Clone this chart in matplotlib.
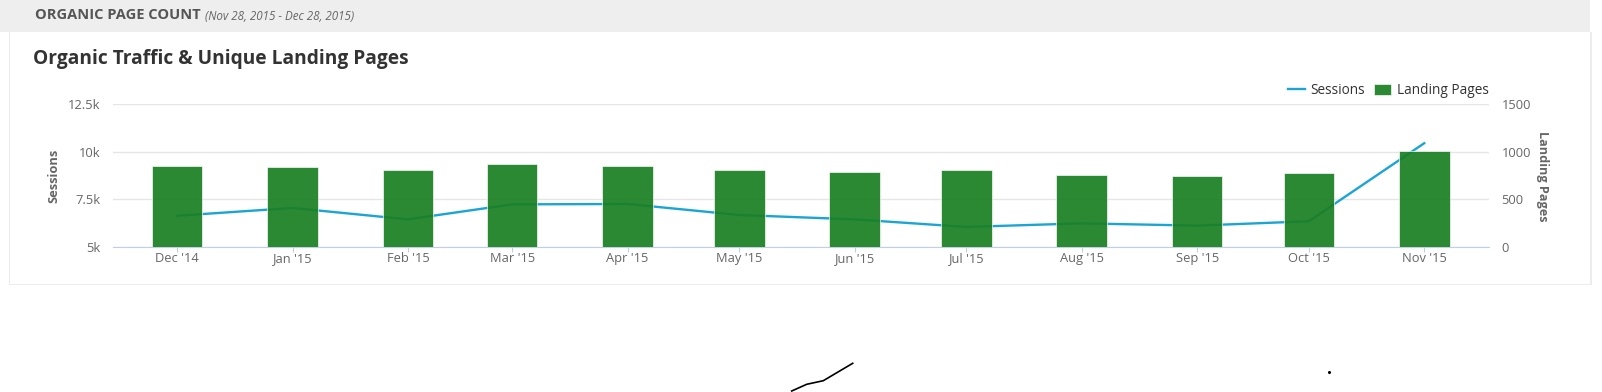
import matplotlib
matplotlib.use('Agg')
import matplotlib.pyplot as plt
import matplotlib.dates as mdates
from matplotlib.patches import Rectangle
from matplotlib.lines import Line2D
import pandas as pd

# data
months = pd.date_range('2014-12-01', '2015-11-01', freq='MS')
month_labels = ["Dec '14", "Jan '15", "Feb '15", "Mar '15", "Apr '15", "May '15",
                "Jun '15", "Jul '15", "Aug '15", "Sep '15", "Oct '15", "Nov '15"]
sessions = [6630, 7040, 6440, 7230, 7250, 6670, 6440, 6040, 6230, 6110, 6340, 10450]
landing_pages = [848, 838, 803, 873, 848, 813, 789, 803, 757, 743, 779, 1010]
session_ticks = [5000, 7500, 10000, 12500]
session_tick_labels = ['5k', '7.5k', '10k', '12.5k']
page_ticks = [0, 500, 1000, 1500]

W, H = 1602, 392

def fx(x):
    return x / W

def fy(y):
    return 1 - y / H

plt.rcParams['font.family'] = ['Open Sans', 'DejaVu Sans']

fig = plt.figure(figsize=(W / 100, H / 100), dpi=100)
fig.patch.set_facecolor('white')

# header band and card (behind the axes)
fig.patches.append(Rectangle((0, fy(32)), fx(1590), 32 / H, transform=fig.transFigure,
                             facecolor='#eeeeee', edgecolor='none', zorder=-2))
fig.patches.append(Rectangle((fx(8.5), fy(285)), fx(1591.5) - fx(8.5), (285 - 32) / H,
                             transform=fig.transFigure, facecolor='#ececec',
                             edgecolor='none', zorder=-2))
fig.patches.append(Rectangle((fx(10), fy(283.5)), fx(1590) - fx(10), (283.5 - 32) / H,
                             transform=fig.transFigure, facecolor='white',
                             edgecolor='none', zorder=-1))

fig.text(fx(35), fy(15), 'ORGANIC PAGE COUNT', fontsize=10.5, fontweight='bold',
         color='#555555', va='center')
fig.text(fx(205), fy(16), '(Nov 28, 2015 - Dec 28, 2015)', fontsize=8.4, style='italic',
         color='#666666', va='center')
fig.text(fx(33), fy(59), 'Organic Traffic & Unique Landing Pages', fontsize=13.75,
         fontweight='bold', color='#333333', va='center')

ax = fig.add_axes([fx(112.7), fy(246.7), fx(1489) - fx(112.7), (246.7 - 104.3) / H])
ax.patch.set_visible(False)
x = mdates.date2num(months)

line, = ax.plot(x, sessions, color='#1ba5d5', lw=1.7, zorder=3)
ax.set_ylim(5000, 12500)
ax.set_yticks(session_ticks)
ax.set_yticklabels(session_tick_labels)
ax.grid(axis='y', color='#e6e6e6', lw=1)
ax.set_axisbelow(True)

ax2 = ax.twinx()
bars = ax2.bar(x, landing_pages, width=13.6, color='#197f22', alpha=0.92,
               edgecolor='white', linewidth=0.5)
ax2.set_ylim(0, 1500)
ax2.set_yticks(page_ticks)

ax.set_xlim(x[0] - 17.3, x[-1] + 17.4)
ax.set_xticks(x)
ax.set_xticklabels(month_labels)

for a in (ax, ax2):
    for s in a.spines.values():
        s.set_visible(False)
ax.spines['bottom'].set_visible(True)
ax.spines['bottom'].set_color('#c0d0e0')

ax.tick_params(axis='x', length=3.6, color='#c0d0e0', labelcolor='#666666',
               labelsize=9.3, pad=0.5)
ax.tick_params(axis='y', length=0, pad=9, labelcolor='#666666', labelsize=9.3)
ax2.tick_params(axis='y', length=0, pad=9, labelcolor='#666666', labelsize=9.3)

fig.text(fx(54.3), fy(175.7), 'Sessions', rotation=90, fontsize=9.3, fontweight='bold',
         color='#666666', ha='center', va='center')
fig.text(fx(1543), fy(176), 'Landing Pages', rotation=-90, fontsize=9.1,
         fontweight='bold', color='#666666', ha='center', va='center')

fig.legend(handles=[line, bars], labels=['Sessions', 'Landing Pages'],
           loc='center right', bbox_to_anchor=(fx(1496), fy(91)), ncol=2,
           frameon=False, fontsize=9.8, handlelength=1.25, handleheight=0.9,
           handletextpad=0.45, columnspacing=0.65, borderpad=0, labelcolor='#333333')

# stray pen marks below the card
fig.add_artist(Line2D([fx(791.7), fx(806.7), fx(823.3), fx(852.7)],
                      [fy(391), fy(384.3), fy(380.7), fy(363.3)],
                      transform=fig.transFigure, color='black', lw=1.2))
fig.add_artist(Line2D([fx(1329)], [fy(371.7)], transform=fig.transFigure,
                      color='black', marker='o', ms=1.2, lw=0))

fig.savefig('out.png', dpi=100)
